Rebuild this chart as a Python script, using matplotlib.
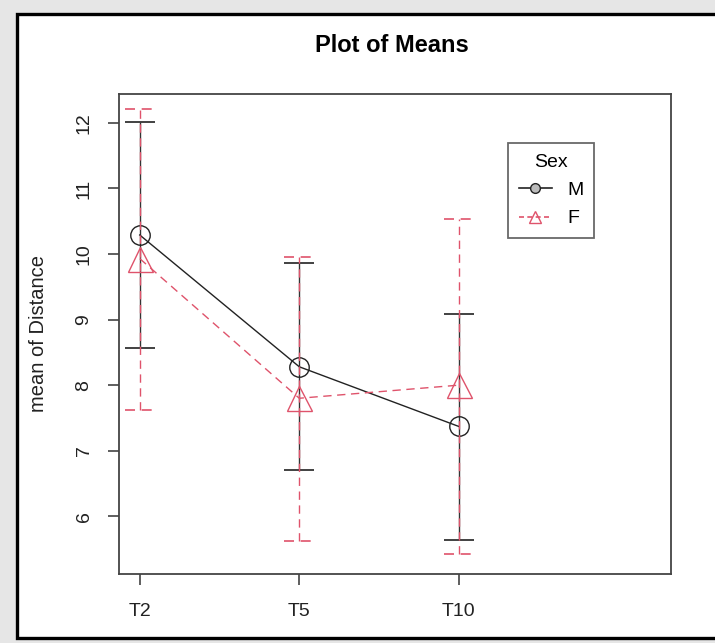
import matplotlib.pyplot as plt
from matplotlib.patches import Rectangle
from matplotlib.lines import Line2D

plt.rcParams['font.family'] = ['Liberation Sans', 'DejaVu Sans']

# data
levels = ['T2', 'T5', 'T10']
m_mean = [10.29, 8.28, 7.37]
m_upper = [12.02, 9.86, 9.08]
m_lower = [8.57, 6.71, 5.64]
f_mean = [9.93, 7.80, 8.00]
f_upper = [12.21, 9.96, 10.53]
f_lower = [7.62, 5.63, 5.42]

pink = '#DF536B'
W, H = 715, 643

fig = plt.figure(figsize=(W / 100, H / 100), dpi=100, facecolor='#e6e6e6')
# white panel with black frame
fig.patches.append(Rectangle((17 / W, 1 - 638 / H), 720 / W, (638 - 14) / H,
                             transform=fig.transFigure, facecolor='white',
                             edgecolor='black', linewidth=2.4, zorder=-10))

ax = fig.add_axes([119 / W, 1 - 574 / H, (671 - 119) / W, (574 - 94) / H])
ax.set_zorder(1)
ax.set_xlim(0.87, 4.33)
ax.set_ylim(5.12, 12.44)

x = [1, 2, 3]
cap = 0.095

# M series
ax.vlines(x, m_lower, m_upper, color='#333333', linewidth=1)
ax.hlines(m_upper, [i - cap for i in x], [i + cap for i in x], color='#333333', linewidth=1.3)
ax.hlines(m_lower, [i - cap for i in x], [i + cap for i in x], color='#333333', linewidth=1.3)
ax.plot(x, m_mean, color='#222222', linewidth=1, marker='o', markersize=14,
        markerfacecolor='none', markeredgecolor='#222222', markeredgewidth=1)

# F series
ax.vlines(x, f_lower, f_upper, color=pink, linewidth=1, linestyles=(0, (6, 4)))
ax.hlines(f_upper, [i - cap for i in x], [i + cap for i in x], color=pink, linewidth=1.2, linestyles=(0, (6, 4)))
ax.hlines(f_lower, [i - cap for i in x], [i + cap for i in x], color=pink, linewidth=1.2, linestyles=(0, (6, 4)))
ax.plot(x, f_mean, color=pink, linewidth=1, linestyle=(0, (6, 4)), marker='^', markersize=18,
        markerfacecolor='none', markeredgecolor=pink, markeredgewidth=1)

ax.set_xticks(x)
ax.set_xticklabels(levels)
ax.set_yticks([6, 7, 8, 9, 10, 11, 12])
ax.set_yticklabels(['6', '7', '8', '9', '10', '11', '12'], rotation=90, va='center')
ax.tick_params(axis='both', length=8, width=1.1, labelsize=14, colors='#333333',
               labelcolor='#222222')
ax.tick_params(axis='x', pad=13)
ax.tick_params(axis='y', pad=11)
for s in ax.spines.values():
    s.set_color('#444444')
    s.set_linewidth(1.3)

ax.set_ylabel('mean of Distance', fontsize=14.5, labelpad=20, color='#222222')
fig.text(392 / W, 1 - 45 / H, 'Plot of Means', fontsize=17, fontweight='bold',
         ha='center', va='center')

handles = [Line2D([], [], color='#222222', linewidth=1.2, marker='o', markersize=7,
                  markerfacecolor='#bbbbbb', markeredgecolor='#222222'),
           Line2D([], [], color=pink, linewidth=1.2, linestyle=(0, (3, 2)), marker='^', markersize=8,
                  markerfacecolor='none', markeredgecolor=pink)]
leg = ax.legend(handles, ['M', 'F'], title='Sex', loc='upper left',
                bbox_to_anchor=((508 - 119) / (671 - 119), 1 - (143 - 94) / (574 - 94)),
                fontsize=14, title_fontsize=14, frameon=True, fancybox=False,
                edgecolor='#444444', handlelength=1.7, borderpad=0.55, labelspacing=0.55,
                handletextpad=0.8, borderaxespad=0)
leg.get_frame().set_linewidth(1.3)

fig.savefig('out.png', dpi=100, facecolor=fig.get_facecolor())
